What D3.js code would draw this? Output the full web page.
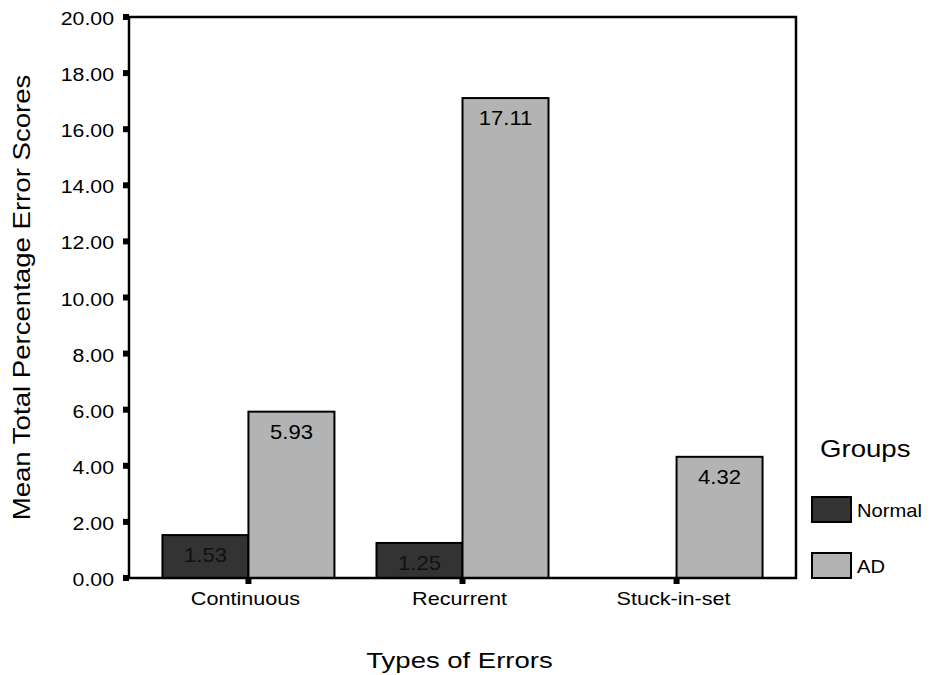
<!DOCTYPE html>
<html>
<head>
<meta charset="utf-8">
<script src="https://cdn.jsdelivr.net/npm/d3@7"></script>
<style>
body { margin: 0; background: #fff; }
text { font-family: "Liberation Sans", Arial, sans-serif; fill: #000; }
</style>
</head>
<body>
<svg class="chart" width="930" height="675"></svg>
<script>
let categories = ["Continuous", "Recurrent", "Stuck-in-set"]
let groups = ["Normal", "AD"]
let normal_values = [1.53, 1.25, null]
let ad_values = [5.93, 17.11, 4.32]
let y_ticks = [0, 2, 4, 6, 8, 10, 12, 14, 16, 18, 20]

let colors = {"Normal": "#333333", "AD": "#b3b3b3"}

let plot_left = 129, plot_right = 796, plot_top = 17, plot_bottom = 578

let svg = d3.select(".chart")

// the original font is a bit wider than Liberation Sans, so stretch it
function place(px, py, sx, rot) {
    return "translate(" + px + "," + py + ")" + (rot ? " rotate(" + rot + ")" : "") + " scale(" + sx + ",1)"
}

let x = d3.scalePoint()
    .domain(categories)
    .range([plot_left, plot_right])
    .padding(0.558)

let bar_w = 86
let xg = d3.scaleBand()
    .domain(groups)
    .range([-bar_w, bar_w])

let y = d3.scaleLinear()
    .domain([0, 20])
    .range([plot_bottom, plot_top])

let rows = []
categories.forEach((c, i) => {
    rows.push({cat: c, group: "Normal", value: normal_values[i]})
    rows.push({cat: c, group: "AD", value: ad_values[i]})
})
rows = rows.filter(d => d.value != null)

// bars
svg.selectAll("rect.bar")
    .data(rows)
    .enter().append("rect")
    .classed("bar", true)
    .attr("x", d => x(d.cat) + xg(d.group))
    .attr("y", d => y(d.value))
    .attr("width", xg.bandwidth())
    .attr("height", d => y(0) - y(d.value))
    .attr("fill", d => colors[d.group])
    .attr("stroke", "#000")
    .attr("stroke-width", 2)

svg.selectAll("text.val")
    .data(rows)
    .enter().append("text")
    .classed("val", true)
    .attr("transform", d => place(x(d.cat) + xg(d.group) + xg.bandwidth() / 2, y(d.value) + 27, 1.05))
    .attr("text-anchor", "middle")
    .attr("font-size", 21)
    .style("fill", d => d.group == "Normal" ? "#111" : "#000")
    .text(d => d.value.toFixed(2))

// frame
svg.append("rect")
    .attr("x", plot_left)
    .attr("y", plot_top)
    .attr("width", plot_right - plot_left)
    .attr("height", plot_bottom - plot_top)
    .attr("fill", "none")
    .attr("stroke", "#000")
    .attr("stroke-width", 2.5)

// y ticks
svg.selectAll("rect.ytick")
    .data(y_ticks)
    .enter().append("rect")
    .classed("ytick", true)
    .attr("x", plot_left - 6)
    .attr("y", d => y(d) - 3)
    .attr("width", 6)
    .attr("height", 6)
    .attr("fill", "#000")

svg.selectAll("text.ytick")
    .data(y_ticks)
    .enter().append("text")
    .classed("ytick", true)
    .attr("transform", d => place(plot_left - 15, y(d) + 8, 1.12))
    .attr("text-anchor", "end")
    .attr("font-size", 19)
    .text(d => d.toFixed(2))

// x ticks
svg.selectAll("rect.xtick")
    .data(categories)
    .enter().append("rect")
    .classed("xtick", true)
    .attr("x", d => x(d) - 3)
    .attr("y", plot_bottom)
    .attr("width", 6)
    .attr("height", 6)
    .attr("fill", "#000")

svg.selectAll("text.xtick")
    .data(categories)
    .enter().append("text")
    .classed("xtick", true)
    .attr("transform", d => place(x(d) - 3, 605, 1.2))
    .attr("text-anchor", "middle")
    .attr("font-size", 18)
    .text(d => d)

// axis titles
svg.append("text")
    .attr("transform", place(30, (plot_top + plot_bottom) / 2, 1.2, -90))
    .attr("text-anchor", "middle")
    .attr("font-size", 23)
    .text("Mean Total Percentage Error Scores")

svg.append("text")
    .attr("transform", place((plot_left + plot_right) / 2 - 3, 668, 1.25))
    .attr("text-anchor", "middle")
    .attr("font-size", 22)
    .text("Types of Errors")

// legend
svg.append("text")
    .attr("transform", place(820, 457, 1.2))
    .attr("font-size", 23)
    .text("Groups")

let legend = svg.selectAll("g.legend")
    .data(groups)
    .enter().append("g")
    .classed("legend", true)
    .attr("transform", (d, i) => "translate(812," + (497 + i * 56) + ")")

legend.append("rect")
    .attr("width", 39)
    .attr("height", 25)
    .attr("fill", d => colors[d])
    .attr("stroke", "#000")
    .attr("stroke-width", 2)

legend.append("text")
    .attr("transform", place(45, 20, 1.12))
    .attr("font-size", 18)
    .text(d => d)
</script>
</body>
</html>
